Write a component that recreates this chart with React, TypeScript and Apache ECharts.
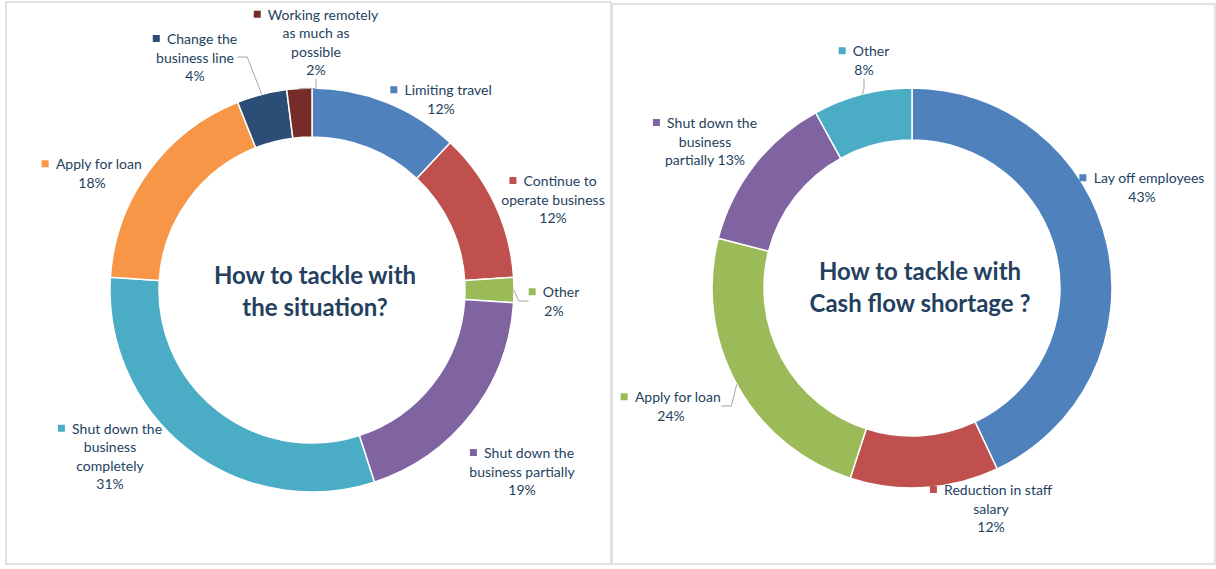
import React, { useEffect, useRef } from "react";
import * as echarts from "echarts";

const leftCategories = [
  "Limiting travel",
  "Continue to operate business",
  "Other",
  "Shut down the business partially",
  "Shut down the business completely",
  "Apply for loan",
  "Change the business line",
  "Working remotely as much as possible",
];
const leftValues = [12, 12, 2, 19, 31, 18, 4, 2];
const leftLabelLines = [
  ["Limiting travel"],
  ["Continue to", "operate business"],
  ["Other"],
  ["Shut down the", "business partially"],
  ["Shut down the", "business", "completely"],
  ["Apply for loan"],
  ["Change the", "business line"],
  ["Working remotely", "as much as", "possible"],
];
const leftColors = ["#4F81BD", "#C0504D", "#9BBB59", "#8064A2", "#4BACC6", "#F79646", "#2C4D75", "#772C2A"];
const leftLeader = [false, false, true, false, false, false, true, true];
const leftLabelPos = [
  [441, 99], [553, 199], [554, 301], [522, 471], [110, 456], [92, 173], [195, 57], [316, 42],
];

const rightCategories = [
  "Lay off employees",
  "Reduction in staff salary",
  "Apply for loan",
  "Shut down the business partially",
  "Other",
];
const rightValues = [43, 12, 24, 13, 8];
const rightLabelLines = [
  ["Lay off employees"],
  ["Reduction in staff", "salary"],
  ["Apply for loan"],
  ["Shut down the", "business", "partially"],
  ["Other"],
];
const rightPercentInline = [false, false, false, true, false];
const rightColors = ["#4F81BD", "#C0504D", "#9BBB59", "#8064A2", "#4BACC6"];
const rightLeader = [false, false, true, false, true];
const rightLabelPos = [
  [1142, 187], [991, 508], [671, 406], [705, 141], [864, 60],
];

const leftTitle = ["How to tackle with", "the situation?"];
const rightTitle = ["How to tackle with", "Cash flow shortage ?"];

const TEXT = "#243F60";
const FONT = "Lato";

function buildSeries(
  center: number[],
  radius: number[],
  cats: string[],
  vals: number[],
  lines: string[][],
  colors: string[],
  leader: boolean[],
  pos: number[][],
  inline?: boolean[]
) {
  const rich: any = {};
  colors.forEach((c, i) => {
    rich["sq" + i] = { width: 7, height: 7, backgroundColor: c };
  });
  return {
    type: "pie",
    center,
    radius,
    startAngle: 90,
    clockwise: true,
    avoidLabelOverlap: false,
    itemStyle: { borderColor: "#ffffff", borderWidth: 1.5 },
    emphasis: { disabled: true },
    data: cats.map((name, i) => ({
      name,
      value: vals[i],
      itemStyle: { color: colors[i] },
      labelLine: {
        show: leader[i],
        showAbove: true,
        length: 10,
        length2: 10,
        lineStyle: { color: "#A6A6A6", width: 1 },
      },
    })),
    label: {
      show: true,
      position: "outside",
      color: TEXT,
      fontFamily: FONT,
      fontSize: 14,
      lineHeight: 18.5,
      rich,
      formatter: (p: any) => {
        const i = p.dataIndex;
        const ls = lines[i].slice();
        ls[0] = "{sq" + i + "|}  " + ls[0];
        const pct = p.value + "%";
        if (inline && inline[i]) {
          ls[ls.length - 1] = ls[ls.length - 1] + " " + pct;
        } else {
          ls.push(pct);
        }
        return ls.join("\n");
      },
    },
    labelLine: { show: false },
    labelLayout: (params: any) => {
      const q = pos[params.dataIndex];
      return { x: q[0], y: q[1], align: "center", verticalAlign: "middle" };
    },
  };
}

export default function App() {
  const ref = useRef<HTMLDivElement>(null);
  useEffect(() => {
    if (!ref.current) return;
    const chart = echarts.init(ref.current, undefined, { renderer: "svg" });
    const titleText = (x: number, y: number, t: string) => ({
      type: "text",
      x,
      y,
      style: {
        text: t,
        fill: TEXT,
        font: "bold 24px Lato",
        textAlign: "center",
        textVerticalAlign: "middle",
      },
    });
    chart.setOption({
      animation: false,
      backgroundColor: "#ffffff",
      graphic: [
        { type: "rect", shape: { x: 6, y: 2, width: 605, height: 562 }, style: { fill: "none", stroke: "#D9D9D9", lineWidth: 1.5 } },
        { type: "rect", shape: { x: 612, y: 4, width: 603, height: 560 }, style: { fill: "none", stroke: "#D9D9D9", lineWidth: 1.5 } },
        titleText(315, 274, leftTitle[0]),
        titleText(315, 306, leftTitle[1]),
        titleText(920, 270, rightTitle[0]),
        titleText(920, 302, rightTitle[1]),
      ],
      series: [
        buildSeries([312, 290], [153, 202], leftCategories, leftValues, leftLabelLines, leftColors, leftLeader, leftLabelPos),
        buildSeries([912, 288], [148, 200], rightCategories, rightValues, rightLabelLines, rightColors, rightLeader, rightLabelPos, rightPercentInline),
      ],
    });
    return () => chart.dispose();
  }, []);
  return (
    <div
      ref={ref}
      style={{ position: "absolute", left: 0, top: 0, width: 1216, height: 569 }}
    />
  );
}
